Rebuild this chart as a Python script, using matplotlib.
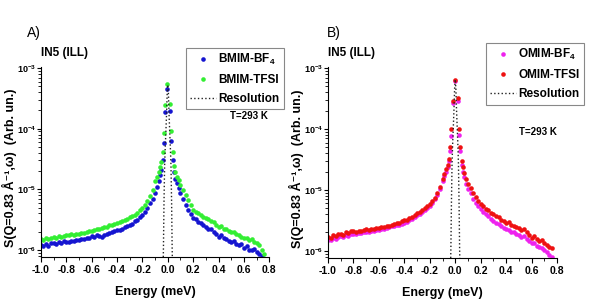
import numpy as np
import matplotlib
matplotlib.use("Agg")
import matplotlib.pyplot as plt
from matplotlib.ticker import LogLocator, MultipleLocator, NullFormatter

plt.rcParams['font.family'] = ['Liberation Sans', 'DejaVu Sans']
plt.rcParams['font.weight'] = 'bold'
plt.rcParams['mathtext.fontset'] = 'custom'
plt.rcParams['mathtext.rm'] = 'Liberation Sans:bold'
plt.rcParams['mathtext.bf'] = 'Liberation Sans:bold'
plt.rcParams['mathtext.default'] = 'bf'

# energies (meV): wings every 0.02, denser around the elastic peak
energy = [-1.00, -0.98, -0.96, -0.94, -0.92, -0.90, -0.88, -0.86, -0.84, -0.82,
          -0.80, -0.78, -0.76, -0.74, -0.72, -0.70, -0.68, -0.66, -0.64, -0.62,
          -0.60, -0.58, -0.56, -0.54, -0.52, -0.50, -0.48, -0.46, -0.44, -0.42,
          -0.40, -0.38, -0.36, -0.34, -0.32, -0.30, -0.28, -0.26, -0.24, -0.22,
          -0.20, -0.18, -0.16, -0.14, -0.12, -0.10,
          -0.085, -0.07, -0.06, -0.05, -0.04, -0.03, -0.02, -0.003,
          0.018, 0.028, 0.04, 0.05, 0.06, 0.07, 0.085,
          0.10, 0.12, 0.14, 0.16, 0.18, 0.20, 0.22, 0.24, 0.26, 0.28,
          0.30, 0.32, 0.34, 0.36, 0.38, 0.40, 0.42, 0.44, 0.46, 0.48,
          0.50, 0.52, 0.54, 0.56, 0.58, 0.60, 0.62, 0.64, 0.66, 0.68,
          0.70, 0.72, 0.74, 0.76]

# S(Q,w) in units of 1e-6
bmim_bf4 = [1.21, 1.15, 1.25, 1.18, 1.28, 1.29, 1.24, 1.33, 1.30, 1.38,
            1.37, 1.33, 1.42, 1.38, 1.48, 1.46, 1.52, 1.50, 1.60, 1.58,
            1.70, 1.65, 1.74, 1.70, 1.62, 1.77, 1.85, 1.90, 1.95, 2.05,
            2.14, 2.15, 2.25, 2.35, 2.45, 2.59, 2.70, 2.95, 3.15, 3.45,
            3.80, 4.3, 5.0, 5.9, 7.0, 8.7,
            11, 13.5, 17, 21, 31, 59, 190, 460, 195, 62, 31, 19, 15, 12.5, 10.5,
            8.7, 7.0, 5.5, 4.6, 3.9, 3.35, 3.2, 2.9, 2.75, 2.55,
            2.43, 2.2, 2.25, 1.95, 1.85, 1.66, 1.75, 1.55, 1.5, 1.40,
            1.37, 1.42, 1.25, 1.2, 1.25, 1.07, 1.15, 1.0, 0.98, 1.05,
            0.94, 0.85, 0.80, np.nan]
bmim_tfsi = [1.50, 1.48, 1.55, 1.52, 1.60, 1.62, 1.58, 1.68, 1.65, 1.72,
             1.77, 1.74, 1.80, 1.76, 1.85, 1.84, 1.90, 1.88, 1.98, 2.02,
             2.08, 2.10, 2.20, 2.18, 2.32, 2.43, 2.38, 2.55, 2.60, 2.68,
             2.83, 2.85, 2.98, 3.10, 3.25, 3.46, 3.60, 3.80, 4.10, 4.50,
             5.00, 5.6, 6.5, 7.8, 9.8, 13.5,
             16, 19, 23, 28, 42, 85, 250, 540, 260, 90, 42, 24, 19, 16, 14,
             11.7, 9.8, 8.0, 6.6, 5.5, 4.6, 4.3, 4.0, 3.8, 3.5,
             3.35, 3.2, 2.95, 2.85, 2.6, 2.43, 2.50, 2.25, 2.2, 2.05,
             1.95, 2.0, 1.8, 1.75, 1.62, 1.56, 1.6, 1.45, 1.5, 1.35,
             1.29, 1.2, 1.0, 0.85]
omim_bf4 = [1.52, 1.48, 1.60, 1.58, 1.70, 1.73, 1.68, 1.82, 1.78, 1.90,
            1.92, 1.88, 1.98, 1.95, 2.05, 2.02, 2.00, 2.12, 2.08, 2.20,
            2.18, 2.28, 2.25, 2.38, 2.42, 2.54, 2.55, 2.62, 2.70, 2.78,
            2.88, 3.00, 3.15, 3.30, 3.55, 3.83, 4.05, 4.30, 4.65, 5.05,
            5.50, 6.2, 7.1, 8.3, 10.5, 14.0,
            17, 20, 24, 30, 43, 77, 270, 620, 290, 80, 43, 26, 20, 16, 12.5,
            10.4, 8.8, 7.2, 6.2, 5.4, 4.8, 4.4, 4.0, 3.7, 3.3,
            3.08, 2.9, 2.75, 2.55, 2.40, 2.24, 2.20, 2.05, 2.0, 1.90,
            1.85, 1.70, 1.72, 1.55, 1.45, 1.34, 1.35, 1.20, 1.15, 1.12,
            1.04, 0.95, 0.85, 0.80]
omim_tfsi = [1.69, 1.62, 1.80, 1.75, 1.90, 1.92, 1.85, 2.00, 1.95, 2.08,
             2.10, 2.05, 2.15, 2.12, 2.22, 2.24, 2.20, 2.32, 2.28, 2.40,
             2.39, 2.48, 2.45, 2.60, 2.58, 2.70, 2.75, 2.85, 2.90, 3.05,
             3.16, 3.25, 3.40, 3.55, 3.80, 4.10, 4.30, 4.60, 4.95, 5.40,
             5.85, 6.6, 7.5, 8.8, 11.0, 15.0,
             18, 22, 26, 32, 50, 100, 290, 650, 320, 100, 50, 30, 24, 19, 15,
             12.6, 10.8, 8.8, 7.6, 6.6, 5.85, 5.4, 4.9, 4.6, 4.2,
             4.0, 3.7, 3.55, 3.25, 3.1, 2.88, 2.95, 2.7, 2.6, 2.45,
             2.39, 2.2, 2.25, 2.0, 1.85, 1.63, 1.75, 1.55, 1.45, 1.50,
             1.34, 1.25, 1.15, 1.10]

res_energy = [-0.037, -0.034, -0.03, -0.025, -0.02, -0.015, -0.01, -0.005, 0.0,
              0.005, 0.01, 0.015, 0.02, 0.025, 0.03, 0.034, 0.037]
res_a = [0.5, 1.2, 6, 25, 50, 90, 170, 380, 530, 380, 170, 90, 50, 25, 6, 1.2, 0.5]
res_b = [0.5, 1.2, 6, 28, 60, 110, 210, 460, 650, 460, 210, 110, 60, 28, 6, 1.2, 0.5]

fig = plt.figure(figsize=(5.92, 3.05), dpi=100)


def panel(rect, series, res, letter, leg_xy, temp_xy, ylab_x):
    ax = fig.add_axes(rect)
    e = np.array(energy)
    for vals, color, label in series:
        ax.plot(e, np.array(vals) * 1e-6, 'o', ms=3.3, color=color, mec=color,
                mew=0, label=label)
    ax.plot(res_energy, np.array(res) * 1e-6, ':', color='#222222', lw=1.0,
            label='Resolution')
    ax.set_yscale('log')
    ax.set_xlim(-1.0, 0.8)
    ax.set_ylim(7.6e-7, 1.04e-3)
    ax.xaxis.set_minor_locator(MultipleLocator(0.1))
    ax.set_xticks([-1.0, -0.8, -0.6, -0.4, -0.2, 0.0, 0.2, 0.4, 0.6, 0.8])
    ax.set_xticklabels(['-1.0', '-0.8', '-0.6', '-0.4', '-0.2', '0.0',
                        '0.2', '0.4', '0.6', '0.8'])
    ax.yaxis.set_major_locator(LogLocator(base=10))
    ax.yaxis.set_minor_locator(LogLocator(base=10, subs=np.arange(2, 10)))
    ax.yaxis.set_minor_formatter(NullFormatter())
    for s in ['top', 'right']:
        ax.spines[s].set_visible(False)
    for s in ['left', 'bottom']:
        ax.spines[s].set_linewidth(0.8)
    ax.tick_params(which='major', direction='out', length=3.5, width=0.8,
                   labelsize=7.5, pad=2)
    ax.tick_params(axis='y', which='major', length=3, pad=0.5, labelsize=6.5)
    ax.tick_params(which='minor', direction='out', length=2, width=0.6)
    ax.set_xlabel('Energy (meV)', fontsize=9, fontweight='bold', labelpad=8)
    ax.set_ylabel('S(Q=0.83 Å⁻¹,ω)  (Arb. un.)', fontsize=9,
                  fontweight='bold')
    ax.yaxis.set_label_coords(ylab_x, 0.47)
    ax.text(0.0, 1.04, 'IN5 (ILL)', transform=ax.transAxes, fontsize=8.5,
            fontweight='bold', ha='left', va='bottom')
    fig.text(letter[1], letter[2], letter[0], fontsize=10, fontweight='normal',
             ha='left', va='center')
    leg = ax.legend(loc='upper left', bbox_to_anchor=leg_xy,
                    bbox_transform=fig.transFigure, numpoints=1, fontsize=8.5,
                    handlelength=2.2, handletextpad=0.2, labelspacing=0.6,
                    borderpad=0.35, borderaxespad=0, fancybox=False,
                    framealpha=1, edgecolor='#888888', markerscale=1.0)
    leg.get_frame().set_linewidth(0.8)
    fig.text(temp_xy[0], temp_xy[1], 'T=293 K', fontsize=7, fontweight='bold',
             ha='left', va='center')
    return ax


panel([0.069, 0.157, 0.386, 0.623],
      [(bmim_bf4, '#1515d0', 'BMIM-BF$_4$'), (bmim_tfsi, '#33ee33', 'BMIM-TFSI')],
      res_a, ('A)', 0.046, 0.893), (0.314, 0.843), (0.389, 0.621), -0.106)
panel([0.554, 0.154, 0.387, 0.626],
      [(omim_bf4, '#ee22ee', 'OMIM-BF$_4$'), (omim_tfsi, '#ee1111', 'OMIM-TFSI')],
      res_b, ('B)', 0.552, 0.893), (0.821, 0.859), (0.877, 0.567), -0.106)

fig.savefig('out.png', dpi=100)
